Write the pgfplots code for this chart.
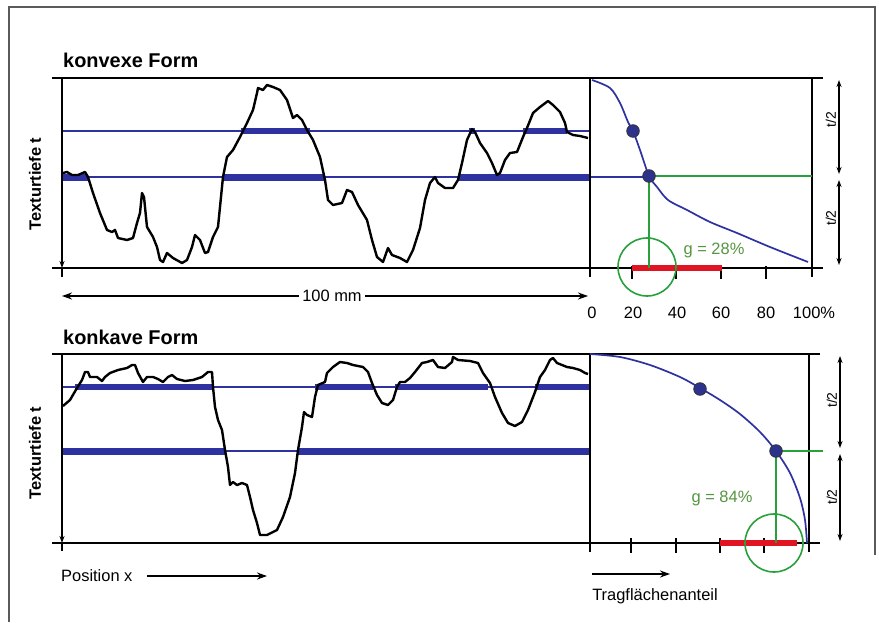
\documentclass[border=0pt]{standalone}
\usepackage{pgfplots}
\pgfplotsset{compat=1.18}
\usepackage{fontspec}
\setmainfont{Liberation Sans}
\usetikzlibrary{arrows.meta}
\definecolor{lblue}{RGB}{45,50,160}
\definecolor{ggreen}{RGB}{40,160,60}
\definecolor{gtext}{RGB}{85,150,65}
\definecolor{rred}{RGB}{225,20,35}
\definecolor{dotc}{RGB}{45,50,140}
\definecolor{frame}{RGB}{90,90,90}
\newcommand{\lbl}{\fontsize{16.5}{19}\selectfont}
\begin{document}
\begin{tikzpicture}
\begin{axis}[
  scale only axis, width=879bp, height=622bp,
  xmin=0,xmax=879,ymin=0,ymax=622, y dir=reverse,
  hide axis, clip=false,
]
% background (sets the page size)
\addplot[draw=none, fill=white] coordinates {(0,0)(879,0)(879,622)(0,622)} --cycle;
% frame
\addplot[frame, line width=1.2bp] coordinates {(9,622)(9,7)(875,7)(875,555)};

% ================= TOP PANEL =================
% thin blue levels
\addplot[lblue, line width=1.7bp] coordinates {(62,131)(590,131)};
\addplot[lblue, line width=1.7bp] coordinates {(62,177)(649,177)};
% thick blue segments
\addplot[lblue, line width=6bp, line cap=butt] coordinates {(241,131)(310,131)};
\addplot[lblue, line width=6bp, line cap=butt] coordinates {(469,131)(475,131)};
\addplot[lblue, line width=6bp, line cap=butt] coordinates {(523,131)(567,131)};
\addplot[lblue, line width=7bp, line cap=butt] coordinates {(62,177)(88,177)};
\addplot[lblue, line width=7bp, line cap=butt] coordinates {(223,177)(325,177)};
\addplot[lblue, line width=7bp, line cap=butt] coordinates {(458,177)(589,177)};
% profile
\addplot[black, line width=2.4bp, line join=round] coordinates {
(63,173)(67,172)(72,175)(78,175)(85,172)(88,177)(93,193)(100,213)(107,230)(112,232)(115,230)(118,238)(127,240)(133,238)(137,223)(140,213)(142,193)(144,197)(147,227)(153,237)(157,247)(160,260)(163,262)(167,253)(173,258)(182,263)(187,260)(192,247)(195,235)(200,240)(205,253)(208,252)(213,237)(218,227)(220,207)(223,177)(227,157)(233,150)(240,137)(247,123)(253,110)(257,93)(258,88)(263,90)(267,85)(273,87)(280,90)(287,100)(292,115)(293,118)(297,115)(302,120)(307,130)(313,140)(320,157)(325,180)(328,200)(333,205)(342,203)(347,190)(352,192)(358,205)(367,220)(372,240)(377,257)(383,262)(388,248)(392,255)(400,258)(407,262)(413,250)(420,228)(425,200)(430,183)(435,177)(438,183)(445,188)(453,188)(458,180)(462,163)(467,140)(472,129)(475,132)(480,143)(487,153)(492,163)(497,175)(500,173)(505,160)(510,153)(517,152)(523,137)(527,128)(533,113)(540,107)(548,101)(553,105)(560,112)(565,123)(567,132)(573,135)(580,136)(588,138)};
% axes frame
\addplot[black, line width=2.2bp] coordinates {(52,78)(823,78)};
\addplot[black, line width=2.2bp] coordinates {(52,268)(823,268)};
\addplot[black, line width=2.2bp] coordinates {(62,268)(62,277)};
\addplot[black, line width=2.2bp, -{Stealth[length=7bp,width=5bp]}] coordinates {(62,78)(62,268)};
\addplot[black, line width=2.2bp] coordinates {(590,78)(590,277)};
\addplot[black, line width=2.2bp] coordinates {(812,78)(812,277)};
\addplot[black, line width=2.2bp] coordinates {(632,266)(632,279)};
\addplot[black, line width=2.2bp] coordinates {(676,266)(676,279)};
\addplot[black, line width=2.2bp] coordinates {(721,266)(721,279)};
\addplot[black, line width=2.2bp] coordinates {(766,266)(766,279)};
% red bar
\addplot[rred, line width=6bp, line cap=butt] coordinates {(632,268)(722,268)};
% ACR curve
\addplot[lblue, line width=1.7bp, smooth] coordinates {
(592,80)(610,88)(620,103)(628,122)(633,131)(640,150)(649,176)(657,187)(668,200)(687,210)(710,222)(737,233)(770,247)(808,262)};
% green construction
\addplot[ggreen, line width=1.6bp] coordinates {(649,176)(812,176)};
\addplot[ggreen, line width=1.6bp] coordinates {(649,176)(649,268)};
\addplot[ggreen, line width=1.6bp, only marks, mark=o, mark size=29bp] coordinates {(647,267)};
% dots
\addplot[only marks, mark=*, mark size=6.3bp, mark options={fill=dotc, draw=black!80, line width=0.8bp}] coordinates {(633,131)(649,176)};
% dimension arrows
\addplot[black, line width=1.6bp, {Stealth[length=7bp,width=5bp]}-{Stealth[length=7bp,width=5bp]}] coordinates {(839,80)(839,174)};
\addplot[black, line width=1.6bp, {Stealth[length=7bp,width=5bp]}-{Stealth[length=7bp,width=5bp]}] coordinates {(839,180)(839,265)};
% 100 mm arrow
\addplot[black, line width=1.7bp, {Stealth[length=10bp,width=7bp]}-{Stealth[length=10bp,width=7bp]}] coordinates {(62,296)(588,296)};

% texts top
\node[anchor=west, font=\fontsize{20}{24}\selectfont\bfseries, inner sep=0pt] at (axis cs:63,60) {konvexe Form};
\node[rotate=90, font=\fontsize{16.5}{19}\selectfont\bfseries, inner sep=0pt] at (axis cs:35,184) {Texturtiefe t};
\node[fill=white, font=\lbl, inner sep=3bp] at (axis cs:332,296) {100 mm};
\node[font=\lbl, text=gtext, inner sep=0pt] at (axis cs:714,250) {g = 28\%};
\node[rotate=90, font=\fontsize{14}{16}\selectfont, inner sep=0pt] at (axis cs:831,120) {t/2};
\node[rotate=90, font=\fontsize{14}{16}\selectfont, inner sep=0pt] at (axis cs:831,218) {t/2};
\node[font=\lbl, inner sep=0pt] at (axis cs:592,313) {0};
\node[font=\lbl, inner sep=0pt] at (axis cs:633,313) {20};
\node[font=\lbl, inner sep=0pt] at (axis cs:677,313) {40};
\node[font=\lbl, inner sep=0pt] at (axis cs:721,313) {60};
\node[font=\lbl, inner sep=0pt] at (axis cs:766,313) {80};
\node[font=\lbl, inner sep=0pt] at (axis cs:814,313) {100\%};

% ================= BOTTOM PANEL =================
\addplot[lblue, line width=1.7bp] coordinates {(62,387)(590,387)};
\addplot[lblue, line width=1.7bp] coordinates {(62,451)(590,451)};
\addplot[lblue, line width=6bp, line cap=butt] coordinates {(75,387)(212,387)};
\addplot[lblue, line width=6bp, line cap=butt] coordinates {(315,387)(373,387)};
\addplot[lblue, line width=6bp, line cap=butt] coordinates {(395,387)(488,387)};
\addplot[lblue, line width=6bp, line cap=butt] coordinates {(535,387)(589,387)};
\addplot[lblue, line width=7bp, line cap=butt] coordinates {(62,451)(225,451)};
\addplot[lblue, line width=7bp, line cap=butt] coordinates {(298,451)(589,451)};
\addplot[black, line width=2.4bp, line join=round] coordinates {
(63,406)(70,400)(77,388)(82,380)(85,372)(88,372)(90,377)(97,377)(102,381)(105,377)(110,373)(118,370)(127,368)(132,365)(135,365)(138,373)(143,382)(147,377)(153,377)(158,379)(163,382)(168,377)(172,375)(177,379)(185,381)(193,380)(202,377)(208,372)(212,372)(213,387)(215,407)(218,420)(222,430)(225,450)(228,467)(230,485)(233,482)(237,485)(242,483)(247,485)(250,497)(253,510)(257,523)(260,535)(267,535)(277,530)(283,517)(290,497)(295,473)(298,450)(302,427)(304,412)(307,415)(312,417)(315,397)(318,385)(325,382)(327,373)(333,367)(340,362)(347,363)(353,365)(363,367)(368,372)(372,383)(377,395)(382,403)(388,405)(393,400)(397,387)(400,382)(405,382)(410,378)(415,372)(422,363)(427,362)(433,360)(438,367)(445,368)(452,362)(453,357)(458,360)(470,361)(478,363)(483,373)(490,383)(495,397)(502,413)(508,423)(515,426)(522,422)(528,410)(535,392)(540,377)(545,370)(550,360)(553,358)(557,363)(562,365)(567,367)(573,368)(580,370)(585,373)(588,374)};
\addplot[black, line width=2.2bp] coordinates {(52,354)(820,354)};
\addplot[black, line width=2.2bp] coordinates {(52,543)(820,543)};
\addplot[black, line width=2.2bp] coordinates {(62,543)(62,551)};
\addplot[black, line width=2.2bp, -{Stealth[length=7bp,width=5bp]}] coordinates {(62,354)(62,543)};
\addplot[black, line width=2.2bp] coordinates {(590,354)(590,552)};
\addplot[black, line width=2.2bp] coordinates {(809,354)(809,552)};
\addplot[black, line width=2.2bp] coordinates {(631,538)(631,553)};
\addplot[black, line width=2.2bp] coordinates {(676,538)(676,553)};
\addplot[black, line width=2.2bp] coordinates {(720,538)(720,553)};
\addplot[black, line width=2.2bp] coordinates {(764,538)(764,553)};
\addplot[rred, line width=6bp, line cap=butt] coordinates {(720,543)(797,543)};
\addplot[lblue, line width=1.7bp, smooth] coordinates {
(590,354)(620,357)(650,365)(680,377)(700,388)(720,400)(740,414)(760,432)(776,451)(790,473)(800,498)(805,520)(807,543)};
\addplot[ggreen, line width=1.6bp] coordinates {(776,451)(823,451)};
\addplot[ggreen, line width=1.6bp] coordinates {(776,451)(776,543)};
\addplot[ggreen, line width=1.6bp, only marks, mark=o, mark size=29bp] coordinates {(774,543)};
\addplot[only marks, mark=*, mark size=6.3bp, mark options={fill=dotc, draw=black!80, line width=0.8bp}] coordinates {(700,389)(776,451)};
\addplot[black, line width=1.6bp, {Stealth[length=7bp,width=5bp]}-{Stealth[length=7bp,width=5bp]}] coordinates {(840,356)(840,448)};
\addplot[black, line width=1.6bp, {Stealth[length=7bp,width=5bp]}-{Stealth[length=7bp,width=5bp]}] coordinates {(840,454)(840,541)};
\addplot[black, line width=1.7bp, -{Stealth[length=10bp,width=7bp]}] coordinates {(147,576)(267,576)};
\addplot[black, line width=1.7bp, -{Stealth[length=10bp,width=7bp]}] coordinates {(592,574)(670,574)};

\node[anchor=west, font=\fontsize{20}{24}\selectfont\bfseries, inner sep=0pt] at (axis cs:63,337) {konkave Form};
\node[rotate=90, font=\fontsize{16.5}{19}\selectfont\bfseries, inner sep=0pt] at (axis cs:35,453) {Texturtiefe t};
\node[font=\lbl, text=gtext, inner sep=0pt] at (axis cs:722,498) {g = 84\%};
\node[rotate=90, font=\fontsize{14}{16}\selectfont, inner sep=0pt] at (axis cs:832,400) {t/2};
\node[rotate=90, font=\fontsize{14}{16}\selectfont, inner sep=0pt] at (axis cs:832,497) {t/2};
\node[anchor=west, font=\lbl, inner sep=0pt] at (axis cs:61,576) {Position x};
\node[font=\lbl, inner sep=0pt] at (axis cs:655,596) {Tragflächenanteil};
\end{axis}
\end{tikzpicture}
\end{document}
